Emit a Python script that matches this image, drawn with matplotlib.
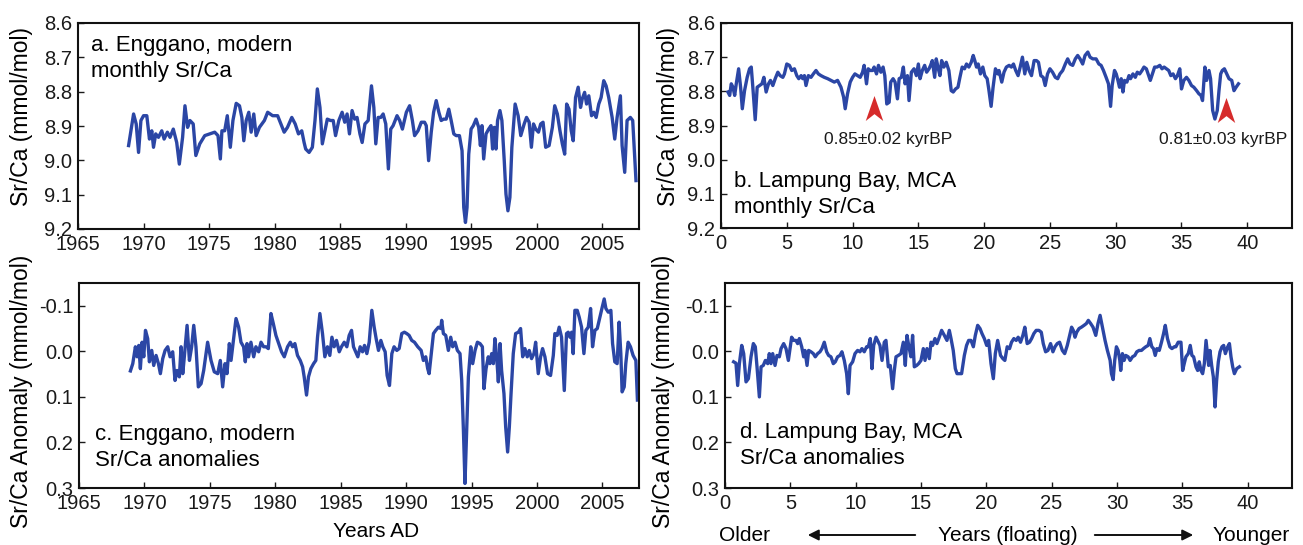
import matplotlib
matplotlib.use('Agg')
import matplotlib.pyplot as plt
from matplotlib.path import Path

plt.rcParams['font.family'] = ['Liberation Sans', 'DejaVu Sans']

# ---------------- data: panel a (Enggano monthly Sr/Ca) ----------------
a_years = [
    1968.86, 1969.24, 1969.44, 1969.62, 1969.80, 1970.00, 1970.25, 1970.45, 1970.63, 1970.76,
    1970.93, 1971.14, 1971.39, 1971.57, 1971.82, 1972.02, 1972.27, 1972.53, 1972.73, 1972.98,
    1973.16, 1973.36, 1973.54, 1973.79, 1973.99, 1974.29, 1974.67, 1975.05, 1975.43, 1975.68,
    1975.86, 1975.98, 1976.19, 1976.39, 1976.62, 1976.82, 1977.07, 1977.32, 1977.50, 1977.65,
    1977.83, 1978.03, 1978.21, 1978.41, 1978.59, 1978.84, 1979.22, 1979.47, 1979.85, 1980.23,
    1980.48, 1980.73, 1980.98, 1981.31, 1981.57, 1981.82, 1982.07, 1982.25, 1982.37, 1982.63,
    1982.88, 1983.08, 1983.26, 1983.46, 1983.64, 1983.84, 1984.02, 1984.27, 1984.47, 1984.65,
    1984.90, 1985.15, 1985.35, 1985.53, 1985.71, 1985.91, 1986.11, 1986.29, 1986.51, 1986.68,
    1986.89, 1987.14, 1987.39, 1987.57, 1987.72, 1987.90, 1988.10, 1988.28, 1988.48, 1988.68,
    1988.86, 1989.04, 1989.34, 1989.54, 1989.75, 1990.05, 1990.30, 1990.51, 1990.68, 1990.94,
    1991.19, 1991.44, 1991.57, 1991.75, 1991.95, 1992.13, 1992.33, 1992.53, 1992.71, 1992.89,
    1993.09, 1993.29, 1993.47, 1993.67, 1993.85, 1994.10, 1994.30, 1994.43, 1994.56, 1994.68,
    1994.81, 1994.99, 1995.16, 1995.37, 1995.57, 1995.70, 1995.82, 1995.95, 1996.13, 1996.33,
    1996.51, 1996.63, 1996.76, 1996.89, 1997.01, 1997.19, 1997.34, 1997.52, 1997.65, 1997.80,
    1997.95, 1998.10, 1998.35, 1998.58, 1998.78, 1999.04, 1999.22, 1999.42, 1999.59, 1999.75,
    1999.92, 2000.13, 2000.30, 2000.48, 2000.68, 2000.94, 2001.19, 2001.37, 2001.57, 2001.77,
    2001.95, 2002.13, 2002.28, 2002.46, 2002.63, 2002.78, 2002.96, 2003.16, 2003.34, 2003.47,
    2003.65, 2003.80, 2003.97, 2004.18, 2004.35, 2004.53, 2004.73, 2004.91, 2005.11, 2005.29,
    2005.49, 2005.75, 2005.95, 2006.13, 2006.38, 2006.51, 2006.71, 2006.89, 2007.14, 2007.32,
    2007.57]
a_srca = [
    8.957, 8.865, 8.894, 8.977, 8.884, 8.870, 8.870, 8.938, 8.914, 8.962,
    8.923, 8.933, 8.914, 8.938, 8.918, 8.933, 8.909, 8.948, 9.011, 8.933,
    8.841, 8.904, 8.884, 8.894, 8.986, 8.952, 8.928, 8.923, 8.918, 8.928,
    8.996, 8.914, 8.914, 8.870, 8.962, 8.884, 8.834, 8.841, 8.875, 8.943,
    8.884, 8.860, 8.918, 8.865, 8.928, 8.904, 8.884, 8.860, 8.870, 8.870,
    8.894, 8.918, 8.904, 8.875, 8.894, 8.923, 8.914, 8.948, 8.967, 8.977,
    8.962, 8.884, 8.792, 8.846, 8.952, 8.914, 8.880, 8.884, 8.884, 8.928,
    8.884, 8.860, 8.889, 8.865, 8.923, 8.855, 8.880, 8.875, 8.923, 8.948,
    8.894, 8.884, 8.783, 8.846, 8.952, 8.875, 8.875, 8.865, 8.894, 9.025,
    8.909, 8.899, 8.870, 8.884, 8.909, 8.860, 8.841, 8.884, 8.928, 8.914,
    8.889, 8.889, 8.899, 9.001, 8.918, 8.860, 8.826, 8.860, 8.884, 8.880,
    8.880, 8.851, 8.884, 8.923, 8.928, 8.928, 8.972, 9.137, 9.181, 9.137,
    8.982, 8.909, 8.899, 8.880, 8.904, 8.957, 8.899, 8.996, 8.923, 8.909,
    8.899, 8.967, 8.904, 8.967, 8.884, 8.855, 8.884, 9.001, 9.098, 9.147,
    9.108, 8.962, 8.836, 8.870, 8.928, 8.894, 8.875, 8.889, 8.962, 8.894,
    8.909, 8.918, 8.894, 8.889, 8.962, 8.957, 8.904, 8.841, 8.865, 8.914,
    8.952, 8.982, 8.836, 8.851, 8.914, 8.943, 8.817, 8.787, 8.846, 8.821,
    8.802, 8.836, 8.812, 8.870, 8.860, 8.875, 8.836, 8.817, 8.768, 8.783,
    8.817, 8.875, 8.938, 8.875, 8.812, 8.957, 9.035, 8.884, 8.875, 8.884,
    9.059]

# ---------------- data: panel b (Lampung Bay monthly Sr/Ca) ----------------
b_years = [
    0.53, 0.66, 0.78, 0.91, 1.04, 1.16, 1.34, 1.49, 1.62, 1.79,
    1.99, 2.17, 2.30, 2.42, 2.60, 2.75, 2.93, 3.11, 3.26, 3.43,
    3.61, 3.76, 3.94, 4.12, 4.32, 4.49, 4.70, 4.82, 5.00, 5.20,
    5.38, 5.58, 5.76, 5.91, 6.09, 6.21, 6.34, 6.46, 6.64, 6.84,
    7.02, 7.22, 7.40, 7.60, 7.85, 8.11, 8.36, 8.61, 8.86, 9.12,
    9.32, 9.44, 9.62, 9.82, 10.00, 10.18, 10.38, 10.58, 10.76, 10.88,
    11.06, 11.19, 11.34, 11.52, 11.64, 11.82, 11.97, 12.15, 12.32, 12.45,
    12.60, 12.78, 12.90, 13.08, 13.23, 13.41, 13.54, 13.71, 13.86, 13.99,
    14.17, 14.29, 14.47, 14.67, 14.85, 15.00, 15.13, 15.30, 15.48, 15.63,
    15.81, 15.93, 16.06, 16.24, 16.36, 16.49, 16.64, 16.77, 16.94, 17.12,
    17.32, 17.50, 17.65, 17.83, 18.01, 18.16, 18.33, 18.51, 18.66, 18.84,
    19.02, 19.17, 19.29, 19.42, 19.55, 19.72, 19.90, 20.05, 20.23, 20.35,
    20.53, 20.68, 20.86, 21.04, 21.13, 21.34, 21.51, 21.69, 21.90, 22.07,
    22.23, 22.40, 22.58, 22.74, 22.91, 23.09, 23.24, 23.42, 23.60, 23.80,
    23.98, 24.13, 24.31, 24.49, 24.64, 24.82, 25.00, 25.20, 25.41, 25.59,
    25.76, 25.97, 26.17, 26.35, 26.53, 26.73, 26.93, 27.11, 27.29, 27.49,
    27.67, 27.88, 28.05, 28.26, 28.51, 28.72, 28.89, 29.07, 29.27, 29.45,
    29.61, 29.73, 29.91, 30.04, 30.17, 30.29, 30.42, 30.55, 30.67, 30.85,
    31.01, 31.13, 31.31, 31.49, 31.64, 31.82, 32.00, 32.15, 32.33, 32.51,
    32.63, 32.79, 32.96, 33.14, 33.35, 33.52, 33.68, 33.85, 34.03, 34.19,
    34.36, 34.54, 34.69, 34.87, 35.00, 35.18, 35.38, 35.56, 35.76, 35.94,
    36.15, 36.32, 36.48, 36.60, 36.78, 36.91, 37.09, 37.21, 37.37, 37.54,
    37.72, 37.85, 37.98, 38.10, 38.26, 38.44, 38.61, 38.82, 38.99, 39.15,
    39.33]
b_srca = [
    8.802, 8.812, 8.778, 8.788, 8.812, 8.778, 8.734, 8.788, 8.851, 8.798,
    8.759, 8.734, 8.729, 8.788, 8.883, 8.788, 8.783, 8.778, 8.759, 8.802,
    8.778, 8.768, 8.783, 8.763, 8.744, 8.754, 8.759, 8.749, 8.720, 8.724,
    8.739, 8.734, 8.754, 8.763, 8.754, 8.763, 8.754, 8.783, 8.754, 8.759,
    8.749, 8.739, 8.749, 8.754, 8.759, 8.763, 8.768, 8.773, 8.768, 8.788,
    8.817, 8.851, 8.807, 8.773, 8.759, 8.749, 8.754, 8.759, 8.744, 8.724,
    8.778, 8.734, 8.739, 8.739, 8.729, 8.749, 8.724, 8.744, 8.729, 8.754,
    8.837, 8.832, 8.773, 8.763, 8.773, 8.822, 8.763, 8.759, 8.729, 8.778,
    8.754, 8.827, 8.744, 8.734, 8.754, 8.720, 8.763, 8.739, 8.724, 8.744,
    8.734, 8.724, 8.710, 8.759, 8.705, 8.729, 8.754, 8.710, 8.729, 8.715,
    8.739, 8.798, 8.802, 8.793, 8.788, 8.759, 8.729, 8.734, 8.720, 8.729,
    8.715, 8.695, 8.710, 8.729, 8.720, 8.749, 8.729, 8.754, 8.763, 8.793,
    8.844, 8.788, 8.734, 8.749, 8.739, 8.773, 8.744, 8.729, 8.724, 8.729,
    8.720, 8.739, 8.754, 8.729, 8.700, 8.749, 8.715, 8.739, 8.754, 8.710,
    8.710, 8.715, 8.754, 8.759, 8.783, 8.749, 8.734, 8.744, 8.759, 8.763,
    8.749, 8.739, 8.720, 8.705, 8.720, 8.724, 8.705, 8.695, 8.705, 8.720,
    8.695, 8.685, 8.700, 8.705, 8.705, 8.720, 8.724, 8.739, 8.759, 8.778,
    8.844, 8.783, 8.739, 8.749, 8.768, 8.788, 8.763, 8.802, 8.768, 8.773,
    8.754, 8.763, 8.749, 8.759, 8.744, 8.749, 8.739, 8.729, 8.734, 8.754,
    8.768, 8.749, 8.729, 8.729, 8.724, 8.734, 8.729, 8.734, 8.739, 8.754,
    8.749, 8.763, 8.754, 8.734, 8.793, 8.768, 8.759, 8.768, 8.783, 8.788,
    8.798, 8.807, 8.812, 8.827, 8.729, 8.768, 8.739, 8.763, 8.856, 8.881,
    8.856, 8.798, 8.749, 8.739, 8.734, 8.749, 8.763, 8.768, 8.798, 8.788,
    8.778]

# ---------------- data: panel c (Enggano Sr/Ca anomalies) ----------------
c_years = [
    1968.93, 1969.11, 1969.31, 1969.44, 1969.57, 1969.69, 1969.82, 1969.95, 1970.08, 1970.25,
    1970.38, 1970.56, 1970.71, 1970.89, 1971.07, 1971.22, 1971.40, 1971.58, 1971.78, 1971.96,
    1972.16, 1972.34, 1972.49, 1972.67, 1972.80, 1972.93, 1973.05, 1973.26, 1973.44, 1973.61,
    1973.77, 1973.94, 1974.12, 1974.33, 1974.53, 1974.71, 1974.83, 1975.09, 1975.34, 1975.60,
    1975.80, 1975.98, 1976.16, 1976.31, 1976.49, 1976.62, 1976.82, 1977.00, 1977.20, 1977.38,
    1977.58, 1977.71, 1977.84, 1977.96, 1978.14, 1978.35, 1978.52, 1978.73, 1978.91, 1979.11,
    1979.29, 1979.47, 1979.67, 1979.85, 1980.05, 1980.23, 1980.48, 1980.69, 1980.94, 1981.15,
    1981.32, 1981.50, 1981.70, 1981.91, 1982.09, 1982.21, 1982.39, 1982.54, 1982.72, 1982.93,
    1983.10, 1983.23, 1983.41, 1983.61, 1983.79, 1983.99, 1984.17, 1984.33, 1984.50, 1984.68,
    1984.89, 1985.06, 1985.27, 1985.47, 1985.65, 1985.83, 1985.98, 1986.31, 1986.49, 1986.67,
    1986.82, 1987.00, 1987.18, 1987.38, 1987.56, 1987.71, 1987.89, 1988.07, 1988.22, 1988.40,
    1988.55, 1988.73, 1988.91, 1989.08, 1989.29, 1989.47, 1989.67, 1989.87, 1990.05, 1990.23,
    1990.43, 1990.64, 1990.89, 1991.15, 1991.32, 1991.50, 1991.65, 1991.76, 1991.91, 1992.09,
    1992.26, 1992.47, 1992.65, 1992.72, 1992.85, 1993.03, 1993.23, 1993.41, 1993.56, 1993.74,
    1993.92, 1994.12, 1994.25, 1994.38, 1994.50, 1994.63, 1994.76, 1994.94, 1995.09, 1995.27,
    1995.45, 1995.65, 1995.83, 1995.95, 1996.11, 1996.28, 1996.41, 1996.54, 1996.67, 1996.79,
    1996.92, 1997.05, 1997.18, 1997.30, 1997.48, 1997.61, 1997.76, 1997.89, 1998.02, 1998.19,
    1998.37, 1998.58, 1998.75, 1998.91, 1999.08, 1999.26, 1999.41, 1999.59, 1999.77, 1999.90,
    2000.10, 2000.28, 2000.43, 2000.61, 2000.81, 2001.04, 2001.25, 2001.37, 2001.55, 2001.70,
    2001.88, 2002.09, 2002.26, 2002.39, 2002.52, 2002.65, 2002.77, 2002.90, 2003.08, 2003.23,
    2003.41, 2003.59, 2003.74, 2003.92, 2004.10, 2004.25, 2004.43, 2004.61, 2004.81, 2004.99,
    2005.14, 2005.27, 2005.45, 2005.65, 2005.78, 2005.95, 2006.13, 2006.28, 2006.41, 2006.51,
    2006.67, 2006.79, 2006.97, 2007.15, 2007.35, 2007.56, 2007.68]
c_anom = [
    0.043, 0.027, -0.010, 0.012, -0.013, 0.038, -0.020, 0.012, -0.046, -0.028,
    0.023, -0.002, 0.031, 0.009, 0.027, 0.049, 0.016, -0.002, -0.010, 0.012,
    0.001, 0.064, 0.042, 0.056, -0.010, 0.049, 0.012, -0.057, 0.020, -0.010,
    -0.057, -0.010, 0.078, 0.071, 0.042, 0.005, -0.020, 0.020, 0.045, 0.049,
    0.020, 0.078, 0.027, 0.049, -0.017, 0.020, -0.028, -0.072, -0.053, -0.020,
    -0.010, 0.023, -0.017, 0.012, -0.020, 0.012, -0.010, 0.001, -0.020, -0.010,
    -0.010, -0.006, -0.083, -0.061, -0.035, -0.020, 0.001, 0.012, -0.010, -0.020,
    -0.010, -0.017, 0.009, 0.020, 0.034, 0.056, 0.096, 0.056, 0.038, 0.027,
    0.020, -0.031, -0.083, -0.039, 0.012, -0.010, 0.009, -0.031, -0.010, -0.024,
    0.001, -0.010, -0.020, -0.010, -0.035, -0.046, -0.010, 0.012, -0.010, 0.001,
    -0.013, 0.005, -0.020, -0.090, -0.053, -0.028, -0.002, -0.024, -0.010, 0.001,
    0.053, 0.075, 0.005, -0.010, -0.002, -0.006, -0.039, -0.042, -0.039, -0.035,
    -0.024, -0.020, -0.010, -0.002, 0.020, 0.012, 0.038, 0.049, 0.009, -0.039,
    -0.046, -0.053, -0.050, -0.068, -0.039, -0.035, -0.002, -0.031, -0.010, -0.020,
    -0.002, 0.005, 0.064, 0.173, 0.290, 0.173, 0.056, -0.010, 0.027, -0.002,
    -0.020, -0.017, -0.010, 0.082, 0.038, 0.012, 0.027, 0.005, 0.027, -0.028,
    0.012, 0.067, -0.017, 0.042, 0.093, 0.166, 0.221, 0.166, 0.093, 0.005,
    -0.039, -0.042, -0.050, 0.012, -0.006, 0.012, -0.002, 0.016, 0.005, -0.020,
    0.049, 0.012, -0.006, 0.012, 0.049, 0.053, 0.009, -0.039, -0.035, -0.053,
    -0.031, 0.086, -0.039, -0.042, -0.031, -0.042, 0.005, -0.090, -0.090, -0.075,
    -0.053, 0.005, -0.046, -0.053, -0.094, -0.010, -0.046, -0.050, -0.075, -0.097,
    -0.115, -0.094, -0.086, -0.090, -0.017, 0.023, 0.027, -0.064, 0.005, 0.089,
    0.078, 0.027, -0.020, -0.010, 0.009, 0.020, 0.107]

# ---------------- data: panel d (Lampung Bay Sr/Ca anomalies) ----------------
d_years = [
    0.66, 0.84, 0.97, 1.10, 1.28, 1.43, 1.61, 1.79, 1.99, 2.17,
    2.32, 2.45, 2.63, 2.76, 2.93, 3.09, 3.27, 3.39, 3.52, 3.65,
    3.83, 3.98, 4.16, 4.29, 4.49, 4.67, 4.85, 5.00, 5.10, 5.26,
    5.43, 5.56, 5.69, 5.87, 6.02, 6.12, 6.28, 6.40, 6.58, 6.76,
    6.91, 7.09, 7.27, 7.42, 7.60, 7.78, 7.93, 8.11, 8.29, 8.44,
    8.62, 8.80, 8.95, 9.13, 9.31, 9.44, 9.57, 9.77, 9.95, 10.15,
    10.33, 10.48, 10.66, 10.84, 10.97, 11.12, 11.25, 11.38, 11.56, 11.68,
    11.86, 12.02, 12.19, 12.32, 12.50, 12.65, 12.83, 12.96, 13.09, 13.27,
    13.47, 13.65, 13.80, 13.93, 14.06, 14.23, 14.36, 14.49, 14.67, 14.82,
    15.00, 15.18, 15.31, 15.46, 15.64, 15.77, 15.89, 16.07, 16.22, 16.40,
    16.58, 16.79, 16.99, 17.17, 17.30, 17.47, 17.63, 17.76, 17.93, 18.11,
    18.32, 18.49, 18.65, 18.83, 19.01, 19.16, 19.34, 19.52, 19.67, 19.85,
    20.03, 20.18, 20.36, 20.54, 20.69, 20.87, 21.09, 21.27, 21.42, 21.60,
    21.78, 21.93, 22.11, 22.29, 22.44, 22.62, 22.80, 22.95, 23.13, 23.31,
    23.47, 23.64, 23.82, 24.03, 24.21, 24.36, 24.54, 24.72, 24.92, 25.10,
    25.26, 25.43, 25.61, 25.82, 26.00, 26.20, 26.38, 26.53, 26.66, 26.79,
    26.92, 27.10, 27.28, 27.48, 27.66, 27.81, 27.99, 28.17, 28.38, 28.55,
    28.71, 28.89, 29.09, 29.27, 29.48, 29.58, 29.71, 29.83, 29.96, 30.09,
    30.22, 30.29, 30.42, 30.55, 30.68, 30.86, 31.01, 31.19, 31.37, 31.52,
    31.70, 31.88, 32.03, 32.21, 32.39, 32.52, 32.67, 32.80, 32.93, 33.06,
    33.24, 33.41, 33.57, 33.70, 33.87, 34.05, 34.21, 34.39, 34.51, 34.69,
    34.90, 35.03, 35.15, 35.28, 35.46, 35.61, 35.74, 35.87, 36.05, 36.18,
    36.30, 36.43, 36.56, 36.69, 36.82, 36.94, 37.02, 37.12, 37.25, 37.38,
    37.51, 37.63, 37.76, 37.89, 38.04, 38.17, 38.30, 38.48, 38.61, 38.73,
    38.86, 38.99, 39.17, 39.37]
d_anom = [
    0.023, 0.026, 0.075, 0.027, -0.013, 0.005, 0.067, 0.060, 0.012, -0.017,
    -0.010, 0.034, 0.100, 0.034, 0.031, 0.020, 0.027, 0.005, 0.027, 0.005,
    0.031, 0.009, 0.012, -0.006, -0.017, -0.006, 0.020, -0.010, -0.031, -0.024,
    -0.024, -0.017, -0.028, -0.010, 0.012, -0.002, 0.031, -0.002, 0.001, 0.005,
    0.012, 0.005, 0.001, -0.006, -0.020, 0.001, 0.009, 0.012, 0.027, 0.023,
    0.012, 0.009, 0.001, 0.020, 0.049, 0.093, 0.031, 0.023, 0.005, -0.002,
    0.001, -0.006, 0.001, -0.010, -0.010, -0.028, 0.038, -0.013, -0.031, -0.024,
    -0.013, 0.020, -0.020, -0.024, 0.034, 0.031, 0.082, 0.042, 0.012, 0.009,
    0.005, -0.020, 0.031, -0.035, -0.013, 0.012, -0.035, 0.034, 0.031, 0.027,
    0.020, -0.006, 0.020, -0.006, 0.016, -0.020, -0.013, -0.028, -0.017, -0.031,
    -0.046, -0.035, -0.024, -0.046, -0.028, -0.002, 0.038, 0.049, 0.049, 0.049,
    0.009, -0.013, -0.024, -0.024, -0.010, -0.035, -0.057, -0.050, -0.039, -0.028,
    -0.013, -0.024, 0.027, 0.060, 0.005, -0.024, 0.009, 0.016, 0.020, -0.010,
    -0.006, -0.020, -0.028, -0.024, -0.031, -0.020, -0.035, -0.053, -0.017, -0.020,
    -0.028, -0.039, -0.046, -0.046, -0.042, -0.017, 0.001, -0.002, -0.017, 0.001,
    -0.010, -0.017, -0.020, -0.002, 0.005, -0.013, -0.035, -0.053, -0.046, -0.031,
    -0.042, -0.050, -0.053, -0.057, -0.061, -0.068, -0.061, -0.053, -0.035, -0.061,
    -0.079, -0.053, -0.024, -0.002, 0.020, 0.049, 0.062, 0.020, -0.010, -0.002,
    0.020, 0.042, 0.005, 0.020, 0.009, 0.012, 0.020, 0.012, 0.009, 0.001,
    -0.002, -0.002, -0.006, -0.010, -0.013, -0.028, -0.010, -0.006, 0.009, -0.006,
    -0.002, -0.020, -0.039, -0.057, -0.028, -0.010, -0.006, -0.010, -0.010, -0.020,
    -0.020, 0.042, 0.027, 0.012, 0.005, -0.013, 0.009, 0.012, 0.034, 0.042,
    0.023, 0.042, 0.049, 0.027, -0.024, 0.009, 0.031, -0.002, 0.031, 0.056,
    0.122, 0.064, 0.023, 0.001, -0.010, -0.013, 0.005, -0.010, -0.017, 0.012,
    0.034, 0.049, 0.038, 0.034]

# U-Th ages marked on panel b
age_labels = ['0.85\u00b10.02 kyrBP', '0.81\u00b10.03 kyrBP']
age_arrow_x = [11.65, 38.4]
age_arrow_y = [8.85, 8.855]
age_text_x = [12.7, 38.2]
age_text_y = [8.94, 8.94]

# tick labels
year_ticks = [1965, 1970, 1975, 1980, 1985, 1990, 1995, 2000, 2005]
float_ticks = [0, 5, 10, 15, 20, 25, 30, 35, 40]
srca_ticks = [8.6, 8.7, 8.8, 8.9, 9.0, 9.1, 9.2]
srca_ticklabels = ['8.6', '8.7', '8.8', '8.9', '9.0', '9.1', '9.2']
anom_ticks = [-0.1, 0.0, 0.1, 0.2, 0.3]
anom_ticklabels = ['-0.1', '0.0', '0.1', '0.2', '0.3']

for nm, xs, ys in [('a', a_years, a_srca), ('b', b_years, b_srca),
                   ('c', c_years, c_anom), ('d', d_years, d_anom)]:
    if len(xs) != len(ys):
        print('length mismatch', nm, len(xs), len(ys))

LINE = '#2b46a5'
RED = '#d62b2b'
TICK_FS = 14.5
LAB_FS = 16.5
ANN_FS = 16

W, H = 1303, 545
fig = plt.figure(figsize=(W / 100, H / 100), dpi=100)


def px_axes(left, top, right, bottom):
    return fig.add_axes([left / W, 1 - bottom / H, (right - left) / W, (bottom - top) / H])


ax_a = px_axes(78, 23, 639, 229)
ax_b = px_axes(721, 23, 1292, 228)
ax_c = px_axes(79, 283, 639, 488)
ax_d = px_axes(725, 283, 1292, 488)


def style(ax, xlim, xticks, ylim, yticks, yticklabels):
    ax.set_xlim(*xlim)
    ax.set_ylim(*ylim)
    ax.set_xticks(xticks)
    ax.set_xticklabels([str(t) for t in xticks])
    ax.set_yticks(yticks)
    ax.set_yticklabels(yticklabels)
    ax.tick_params(direction='in', length=4, width=1.0, top=False, right=False,
                   labelsize=TICK_FS, colors='#1a1a1a')
    ax.tick_params(axis='x', pad=4)
    ax.tick_params(axis='y', pad=4)
    for sp in ax.spines.values():
        sp.set_linewidth(1.5)
        sp.set_color('#111111')


lw = 2.4
ax_a.plot(a_years, a_srca, color=LINE, lw=lw, solid_joinstyle='round')
ax_b.plot(b_years, b_srca, color=LINE, lw=lw, solid_joinstyle='round')
ax_c.plot(c_years, c_anom, color=LINE, lw=lw, solid_joinstyle='round')
ax_d.plot(d_years, d_anom, color=LINE, lw=lw, solid_joinstyle='round')

style(ax_a, (1965, 2007.8), year_ticks, (9.2, 8.6), srca_ticks, srca_ticklabels)
style(ax_b, (0, 43.4), float_ticks, (9.2, 8.6), srca_ticks, srca_ticklabels)
style(ax_c, (1965, 2007.8), year_ticks, (0.3, -0.15), anom_ticks, anom_ticklabels)
style(ax_d, (0, 43.4), float_ticks, (0.3, -0.15), anom_ticks, anom_ticklabels)

# y labels
ax_a.set_ylabel('Sr/Ca (mmol/mol)', fontsize=LAB_FS)
ax_a.yaxis.set_label_coords(-0.08, 0.545)
ax_b.set_ylabel('Sr/Ca (mmol/mol)', fontsize=LAB_FS)
ax_b.yaxis.set_label_coords(-0.072, 0.545)
ax_c.set_ylabel('Sr/Ca Anomaly (mmol/mol)', fontsize=LAB_FS)
ax_c.yaxis.set_label_coords(-0.082, 0.47)
ax_d.set_ylabel('Sr/Ca Anomaly (mmol/mol)', fontsize=LAB_FS)
ax_d.yaxis.set_label_coords(-0.088, 0.47)

# panel annotations (y = baseline of the last line)
ax_a.text(0.023, 0.738, 'a. Enggano, modern\nmonthly Sr/Ca', transform=ax_a.transAxes,
          fontsize=ANN_FS, va='baseline', ha='left', linespacing=1.3)
ax_b.text(0.023, 0.073, 'b. Lampung Bay, MCA\nmonthly Sr/Ca', transform=ax_b.transAxes,
          fontsize=ANN_FS, va='baseline', ha='left', linespacing=1.3)
ax_c.text(0.029, 0.107, 'c. Enggano, modern\nSr/Ca anomalies', transform=ax_c.transAxes,
          fontsize=ANN_FS, va='baseline', ha='left', linespacing=1.3)
ax_d.text(0.026, 0.117, 'd. Lampung Bay, MCA\nSr/Ca anomalies', transform=ax_d.transAxes,
          fontsize=ANN_FS, va='baseline', ha='left', linespacing=1.3)

# red age arrows on panel b
arrow_marker = Path([(0, 1), (0.7, -1), (0, -0.45), (-0.7, -1), (0, 1)],
                    [Path.MOVETO, Path.LINETO, Path.LINETO, Path.LINETO, Path.CLOSEPOLY])
ax_b.plot(age_arrow_x, age_arrow_y, linestyle='none', marker=arrow_marker,
          markersize=18, color=RED, markeredgewidth=0)
for lbl, tx, ty in zip(age_labels, age_text_x, age_text_y):
    ax_b.text(tx, ty, lbl, fontsize=12.5, ha='center', va='center', color='#1a1a1a')

# bottom labels
fig.text(376 / W, 1 - 537 / H, 'Years AD', ha='center', va='baseline', fontsize=15)
fig.text(719 / W, 1 - 541 / H, 'Older', ha='left', va='baseline', fontsize=15)
fig.text(1008 / W, 1 - 541 / H, 'Years (floating)', ha='center', va='baseline', fontsize=15)
fig.text(1290 / W, 1 - 541 / H, 'Younger', ha='right', va='baseline', fontsize=15)
ya = 1 - 535 / H
fig.add_artist(matplotlib.patches.FancyArrowPatch((918 / W, ya), (805 / W, ya),
               transform=fig.transFigure, arrowstyle='-|>', mutation_scale=16,
               color='#111111', lw=1.4))
fig.add_artist(matplotlib.patches.FancyArrowPatch((1092 / W, ya), (1196 / W, ya),
               transform=fig.transFigure, arrowstyle='-|>', mutation_scale=16,
               color='#111111', lw=1.4))

fig.savefig('out.png', dpi=100)
